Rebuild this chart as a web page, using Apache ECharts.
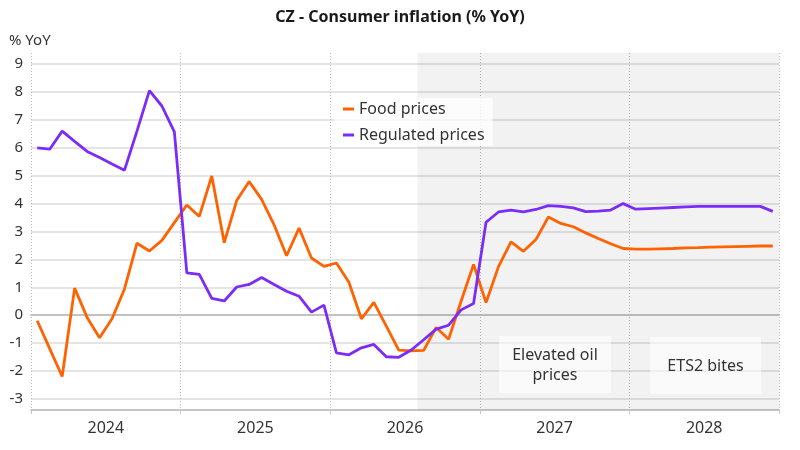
<!DOCTYPE html>
<html>
<head>
<meta charset="utf-8">
<title>CZ - Consumer inflation</title>
<script src="https://cdn.jsdelivr.net/npm/echarts@6/dist/echarts.min.js"></script>
<style>
  html, body { margin: 0; padding: 0; background: #fff; }
  #chart { width: 800px; height: 450px; }
</style>
</head>
<body>
<div id="chart"></div>
<script>
// years shown under the axis (one label per year)
var years = ['2024', '2025', '2026', '2027', '2028'];

// monthly values, Jan 2024 .. Dec 2028
var food_prices = [
  -0.2, -1.2, -2.2, 0.97, -0.08, -0.81, -0.13, 0.94, 2.58, 2.3, 2.68, 3.32,
  3.95, 3.54, 4.99, 2.6, 4.11, 4.79, 4.15, 3.24, 2.13, 3.12, 2.05, 1.75,
  1.87, 1.18, -0.13, 0.46, -0.39, -1.25, -1.28, -1.26, -0.44, -0.86, 0.5, 1.82,
  0.45, 1.74, 2.63, 2.29, 2.71, 3.52, 3.29, 3.17, 2.95, 2.75, 2.56, 2.39,
  2.37, 2.37, 2.38, 2.39, 2.41, 2.42, 2.44, 2.45, 2.46, 2.47, 2.48, 2.48
];
var regulated_prices = [
  6.0, 5.95, 6.6, 6.23, 5.87, 5.65, 5.42, 5.2, 6.6, 8.05, 7.5, 6.57,
  1.52, 1.46, 0.6, 0.51, 1.01, 1.1, 1.35, 1.1, 0.86, 0.68, 0.11, 0.36,
  -1.35, -1.42, -1.17, -1.05, -1.49, -1.51, -1.25, -0.88, -0.5, -0.36, 0.19, 0.42,
  3.33, 3.7, 3.77, 3.7, 3.79, 3.93, 3.9, 3.85, 3.71, 3.73, 3.77, 4.0,
  3.8, 3.82, 3.84, 3.86, 3.88, 3.9, 3.9, 3.9, 3.9, 3.9, 3.9, 3.72
];

// scenario shading starts at month index 31 (Aug 2026)
var shade_start = 31;
var shade_end = 60;

// month i is drawn in the middle of its month slot
function toPoints(arr) {
  return arr.map(function (v, i) { return [i + 0.5, v]; });
}

var font = '"Noto Sans", "DejaVu Sans", sans-serif';
var textColor = '#333333';

var myChart = echarts.init(document.getElementById('chart'));

var option = {
  animation: false,
  textStyle: { fontFamily: font },
  title: [
    {
      text: 'CZ - Consumer inflation (% YoY)',
      left: 'center',
      top: 9,
      padding: 0,
      textStyle: { fontSize: 16, fontWeight: 'bold', color: '#1a1a1a', fontFamily: font }
    },
    {
      text: '% YoY',
      left: 9,
      top: 33,
      padding: 0,
      textStyle: { fontSize: 15, fontWeight: 'normal', color: textColor, fontFamily: font }
    }
  ],
  legend: {
    orient: 'vertical',
    left: 335,
    top: 98,
    padding: [3, 8, 3, 8],
    itemGap: 10,
    itemWidth: 11,
    itemHeight: 3,
    icon: 'rect',
    backgroundColor: 'rgba(255,255,255,0.75)',
    textStyle: { fontSize: 16, color: textColor, fontFamily: font },
    data: ['Food prices', 'Regulated prices']
  },
  grid: {
    left: 31,
    right: 21,
    top: 53,
    bottom: 40,
    containLabel: false
  },
  xAxis: [
    {
      // month scale: carries the year separators and the bottom axis line
      type: 'value',
      min: 0,
      max: 60,
      interval: 12,
      axisLine: { show: true, onZero: false, lineStyle: { color: '#c6c6c6', width: 2 } },
      axisTick: { show: true, length: 4, lineStyle: { color: '#c6c6c6', width: 1 } },
      axisLabel: { show: false },
      splitLine: { show: true, lineStyle: { color: '#b8b8b8', width: 1, type: [1, 2] } }
    },
    {
      // year labels centred in each year
      type: 'category',
      data: years,
      boundaryGap: true,
      position: 'bottom',
      axisLine: { show: false, onZero: false },
      axisTick: { show: false },
      splitLine: { show: false },
      axisLabel: { show: true, fontSize: 16, color: textColor, margin: 10, fontFamily: font }
    },
    {
      // zero line
      type: 'value',
      min: 0,
      max: 60,
      axisLine: { show: true, onZero: true, lineStyle: { color: '#c2c2c2', width: 2 } },
      axisTick: { show: false },
      axisLabel: { show: false },
      splitLine: { show: false }
    }
  ],
  yAxis: {
    type: 'value',
    min: -3.4,
    max: 9.4,
    splitNumber: 12,
    minInterval: 1,
    maxInterval: 1,
    axisLine: { show: false },
    axisTick: { show: false },
    axisLabel: {
      fontSize: 15,
      color: textColor,
      margin: 8,
      showMinLabel: false,
      showMaxLabel: false,
      fontFamily: font
    },
    splitLine: {
      show: true,
      showMinLine: false,
      showMaxLine: false,
      lineStyle: { color: '#dcdcdc', width: 1.5 }
    }
  },
  graphic: [
    {
      type: 'rect',
      shape: { x: 499, y: 336, width: 112, height: 57 },
      style: { fill: 'rgba(255,255,255,0.6)' },
      z: 3
    },
    {
      type: 'text',
      x: 555,
      y: 365,
      style: {
        text: 'Elevated oil\nprices',
        align: 'center',
        verticalAlign: 'middle',
        lineHeight: 20,
        font: '16px ' + font,
        fill: textColor
      },
      z: 4
    },
    {
      type: 'rect',
      shape: { x: 650, y: 337, width: 111, height: 57 },
      style: { fill: 'rgba(255,255,255,0.6)' },
      z: 3
    },
    {
      type: 'text',
      x: 705.5,
      y: 366,
      style: {
        text: 'ETS2 bites',
        align: 'center',
        verticalAlign: 'middle',
        font: '16px ' + font,
        fill: textColor
      },
      z: 4
    }
  ],
  series: [
    {
      name: 'Food prices',
      type: 'line',
      xAxisIndex: 0,
      data: toPoints(food_prices),
      showSymbol: false,
      color: '#ff6200',
      lineStyle: { width: 2.8 },
      markArea: {
        silent: true,
        itemStyle: { color: 'rgba(0,0,0,0.05)' },
        data: [[{ xAxis: shade_start }, { xAxis: shade_end }]]
      }
    },
    {
      name: 'Regulated prices',
      type: 'line',
      xAxisIndex: 0,
      data: toPoints(regulated_prices),
      showSymbol: false,
      color: '#7b2cf6',
      lineStyle: { width: 2.8 }
    }
  ]
};

myChart.setOption(option);

window.addEventListener('resize', function () {
  myChart.resize();
});
</script>
</body>
</html>
